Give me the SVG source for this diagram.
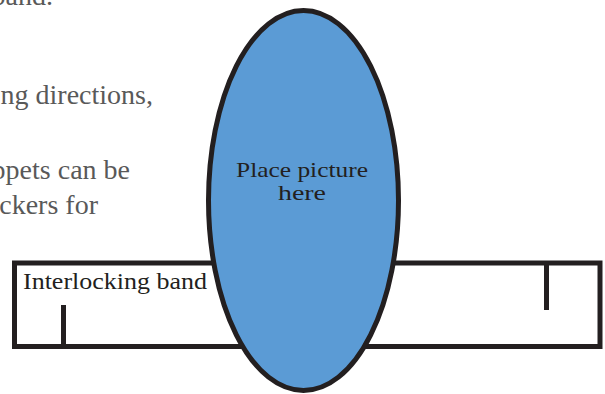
<svg xmlns="http://www.w3.org/2000/svg" width="605" height="394" viewBox="0 0 605 394">
  <style>
    .body { font-family: "Liberation Serif", "Times New Roman", serif; font-size: 28px; fill: #595959; }
    .label { font-family: "Liberation Serif", "Times New Roman", serif; fill: #231F20; }
    .line { fill: none; stroke: #231F20; stroke-width: 5; }
  </style>
  <rect width="605" height="394" fill="#ffffff"/>
  <g id="background-text">
    <text class="body" x="53" y="5" text-anchor="end">band.</text>
    <text class="body" x="153" y="104" text-anchor="end">ng directions,</text>
    <text class="body" x="130" y="179" text-anchor="end">ppets can be</text>
    <text class="body" x="98" y="214" text-anchor="end">ckers for</text>
  </g>
  <g id="band">
    <rect class="line" x="14.5" y="263" width="585.5" height="83.5"/>
    <line class="line" x1="63.5" y1="305" x2="63.5" y2="346.5"/>
    <line class="line" x1="546.5" y1="263" x2="546.5" y2="310"/>
    <text class="label" x="23" y="289" font-size="23" textLength="184" lengthAdjust="spacingAndGlyphs">Interlocking band</text>
  </g>
  <g id="picture">
    <ellipse cx="303.5" cy="200.5" rx="95" ry="190" fill="#5B9BD5" stroke="#231F20" stroke-width="5"/>
    <text class="label" x="302" y="177" font-size="21" text-anchor="middle" textLength="132" lengthAdjust="spacingAndGlyphs">Place picture</text>
    <text class="label" x="302" y="200" font-size="21" text-anchor="middle" textLength="48" lengthAdjust="spacingAndGlyphs">here</text>
  </g>
</svg>
